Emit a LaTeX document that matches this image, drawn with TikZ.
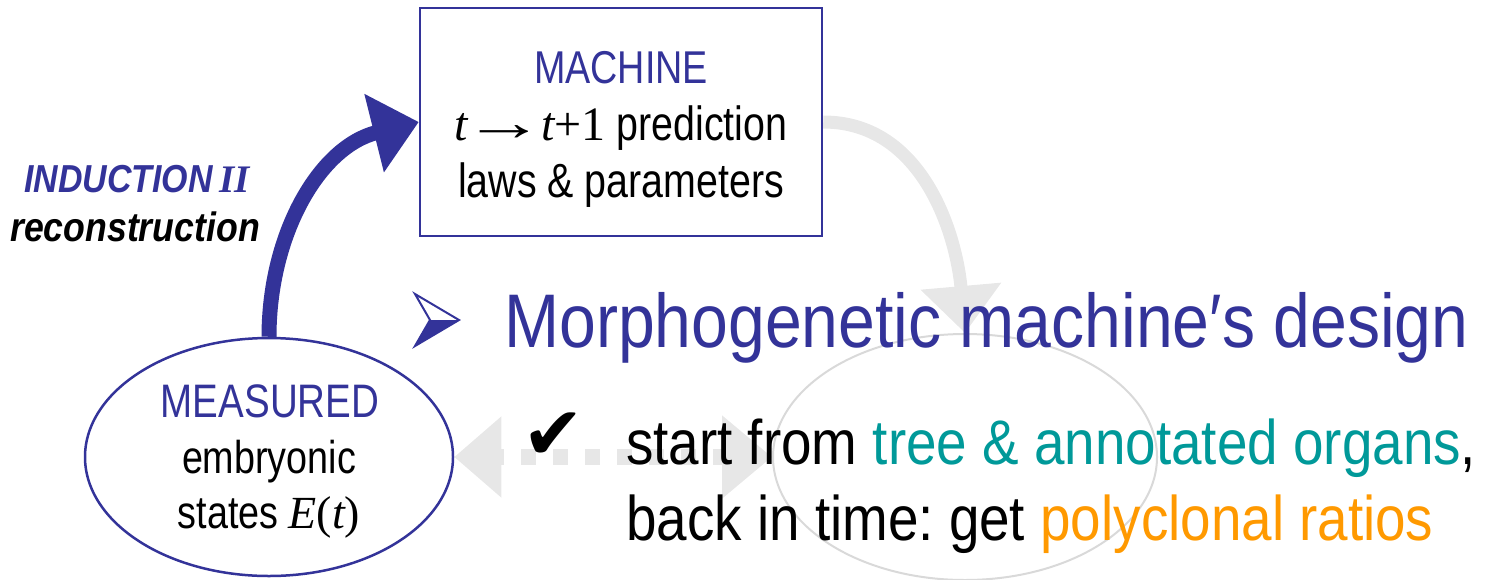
\documentclass[tikz,border=0pt]{standalone}
\usepackage{graphicx}
\usepackage{fontspec}
\setmainfont{Liberation Sans}[FakeStretch=0.87]
\newfontfamily\narrow{Liberation Sans}[FakeStretch=0.82]
\newfontfamily\tms{Liberation Serif}
\newfontfamily\dejavu{DejaVu Sans}
\usetikzlibrary{arrows.meta,shapes.geometric}
\definecolor{navy}{RGB}{51,51,153}
\definecolor{teal}{RGB}{0,153,153}
\definecolor{amber}{RGB}{255,153,0}
\definecolor{arrowgrey}{RGB}{231,231,231}
\definecolor{ovalgrey}{RGB}{217,217,217}
\frenchspacing
\newcommand\setfs[1]{\fontsize{#1}{#1}\selectfont}
\tikzset{
  lbl/.style={inner sep=0pt, anchor=base},
  bluebox/.style={draw=navy, line width=2.5pt, minimum width=402pt, minimum height=228pt, inner sep=0pt},
  blueoval/.style={ellipse, draw=navy, line width=2.5pt, minimum width=368pt, minimum height=238pt, inner sep=0pt},
  greyoval/.style={ellipse, draw=ovalgrey, line width=2pt, minimum width=384pt, minimum height=246pt, inner sep=0pt},
  ghostarrow/.style={draw=arrowgrey, line width=13pt, -{Triangle[length=47pt,width=78pt]}},
  dottedlink/.style={draw=arrowgrey, line width=16pt, dash pattern=on 15pt off 17pt, dash phase=9pt,
    {Triangle[length=47pt,width=78pt]}-{Triangle[length=50pt,width=80pt]}},
  bigarrow/.style={draw=navy, line width=15pt, -{Triangle[length=46pt,width=78pt]}},
}
\begin{document}
\begin{tikzpicture}[x=1pt,y=-1pt]
\useasboundingbox (0,0) rectangle (1493,579);

% main shapes
\node[bluebox] (machine) at (621,122) {};
\node[blueoval] (measured) at (269,457) {};
\node[greyoval] (target) at (965,457) {};

% connectors (drawn under the text)
\draw[ghostarrow] (machine.east) to[out=0,in=95] (target.north);
\draw[dottedlink] (measured.east) -- (target.west);
\draw[bigarrow] (measured.north) to[out=90,in=194] (machine.west);

% machine box text
\node[lbl] (mstep) at (621,140) {\narrow\setfs{48}{\tms\itshape t}\kern-4pt{\tms\scalebox{1.7}[1.1]{→}}\kern-4pt{\tms\itshape t}{\tms +1} prediction};
\node[lbl, text=navy] (mtitle) at (621,83) {\narrow\setfs{46}MACHINE};
\node[lbl] (mlaws) at (621,197) {\narrow\setfs{48}laws \& parameters};

% measured states text
\node[lbl, text=navy] (etitle) at (270,417) {\narrow\setfs{47}MEASURED};
\node[lbl] (eline1) at (269,473) {\narrow\setfs{46}embryonic};
\node[lbl] (eline2) at (269,528) {\narrow\setfs{46}states {\tms\itshape E}{\tms (}{\tms\itshape t}{\tms )}};

% induction label
\node[lbl, text=navy] (induct) at (137,192) {\setfs{39}\bfseries\itshape INDUCTION\,{\tms II}};
\node[lbl] (recon) at (135,241) {\setfs{41}\bfseries\itshape reconstruction};

% title bullet
\filldraw[draw=navy, fill=white, line width=2pt, line join=miter]
  (415,294) -- (459,320) -- (415,346) -- (430,320) -- cycle;
\fill[navy] (430,320) -- (459,320) -- (415,346) -- cycle;
\node[lbl, anchor=base west, text=navy] (title) at (504,347) {\setfs{76}Morphogenetic machine′s design};

% bullet item
\node[inner sep=0pt] (tick) at (553,436) {\setfs{74}\dejavu ✔};
\node[lbl, anchor=base west] (item1) at (626,464)
  {\setfs{63}start from \textcolor{teal}{tree \& annotated organs},};
\node[lbl, anchor=base west] (item2) at (626,540)
  {\setfs{63}back in time: get \textcolor{amber}{polyclonal ratios}};
\end{tikzpicture}
\end{document}
